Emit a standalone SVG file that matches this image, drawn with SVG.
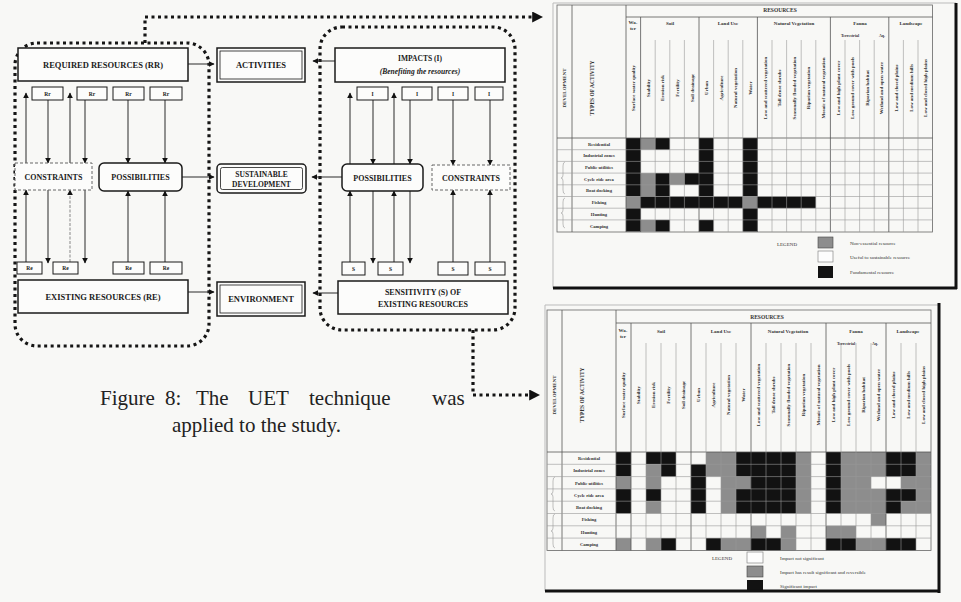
<svg xmlns="http://www.w3.org/2000/svg" width="961" height="602" viewBox="0 0 961 602">
<defs>
<style>
.box{fill:#fcfcfb;stroke:#1a1a1a;stroke-width:1.5}
.in{fill:none;stroke:#1a1a1a;stroke-width:0.8}
.sm{fill:#fcfcfb;stroke:#1a1a1a;stroke-width:1}
.dsh{fill:#fcfcfb;stroke:#666;stroke-width:1;stroke-dasharray:3 2}
.t{font-family:"Liberation Serif","Times New Roman",serif;font-weight:bold;fill:#1a1a1a;text-anchor:middle;font-size:8.5px}
.ts{font-family:"Liberation Serif","Times New Roman",serif;font-weight:bold;fill:#1a1a1a;text-anchor:middle;font-size:5.5px}
.c{stroke:#2a2a2a;stroke-width:1;fill:none}
.cl{stroke:#888;stroke-width:1;fill:none;stroke-dasharray:3 1.5}
.dot{fill:none;stroke:#151515;stroke-width:3.2;stroke-dasharray:3 3.5}
.cap{font-family:"Liberation Serif","Times New Roman",serif;font-size:21px;fill:#222}
.tt{font-family:"Liberation Serif","Times New Roman",serif;font-weight:bold;fill:#333;text-anchor:middle;font-size:5px}
.tl{font-family:"Liberation Serif","Times New Roman",serif;fill:#333;font-size:5px}
.gl{stroke:#999;stroke-width:0.6;fill:none}
.gd{stroke:#555;stroke-width:0.8;fill:none}
.B{fill:#121212}
.G{fill:#8d8d8d}
</style>
<marker id="ah" viewBox="0 0 10 10" refX="9" refY="5" markerWidth="6" markerHeight="6" markerUnits="userSpaceOnUse" orient="auto">
<path d="M0,0 L10,5 L0,10 z" fill="#111" stroke="none"/>
</marker>
<marker id="ahd" viewBox="0 0 10 10" refX="8" refY="5" markerWidth="11" markerHeight="11" markerUnits="userSpaceOnUse" orient="auto">
<path d="M0,0 L10,5 L0,10 z" fill="#111" stroke="none"/>
</marker>
</defs>

<rect x="0" y="0" width="961" height="602" fill="#f8f8f6"/>

<g id="enclosures">
<rect class="dot" x="15" y="43" width="194" height="303" rx="22"/>
<rect class="dot" x="320" y="27" width="195" height="303" rx="22"/>
</g>

<g id="connectors">
<path class="dot" d="M145,43 V17 H541" marker-end="url(#ahd)"/>
<path class="dot" d="M473,330 V395 H538" marker-end="url(#ahd)"/>
<path class="c" d="M26,163 V93" marker-end="url(#ah)"/>
<path class="c" d="M70,163 V93" marker-end="url(#ah)"/>
<path class="c" d="M48,100 V163" marker-end="url(#ah)"/>
<path class="c" d="M85,100 V163" marker-end="url(#ah)"/>
<path class="c" d="M128,100 V163" marker-end="url(#ah)"/>
<path class="c" d="M165,100 V163" marker-end="url(#ah)"/>
<path class="c" d="M26,262 V190" marker-end="url(#ah)"/>
<path class="cl" d="M70,262 V190" marker-end="url(#ah)"/>
<path class="c" d="M48,190 V263" marker-end="url(#ah)"/>
<path class="c" d="M85,190 V263" marker-end="url(#ah)"/>
<path class="c" d="M128,262 V191" marker-end="url(#ah)"/>
<path class="c" d="M165,262 V191" marker-end="url(#ah)"/>
<path class="c" d="M350,164 V93" marker-end="url(#ah)"/>
<path class="c" d="M394,164 V93" marker-end="url(#ah)"/>
<path class="c" d="M373,100 V164" marker-end="url(#ah)"/>
<path class="c" d="M410,100 V164" marker-end="url(#ah)"/>
<path class="c" d="M453,100 V165" marker-end="url(#ah)"/>
<path class="c" d="M490,100 V165" marker-end="url(#ah)"/>
<path class="c" d="M350,262 V191" marker-end="url(#ah)"/>
<path class="c" d="M394,262 V191" marker-end="url(#ah)"/>
<path class="c" d="M373,191 V263" marker-end="url(#ah)"/>
<path class="c" d="M410,191 V263" marker-end="url(#ah)"/>
<path class="c" d="M453,262 V190" marker-end="url(#ah)"/>
<path class="c" d="M490,262 V190" marker-end="url(#ah)"/>
<path class="c" d="M188,64 H214" marker-end="url(#ah)"/>
<path class="c" d="M335,61 H313" marker-end="url(#ah)"/>
<path class="c" d="M182,177 H214" stroke-width="1.6" marker-end="url(#ah)"/>
<path class="c" d="M342,177 H312" stroke-width="1.6" marker-end="url(#ah)"/>
<path class="c" d="M188,292 H214" marker-end="url(#ah)"/>
<path class="c" d="M338,293 H313" marker-end="url(#ah)"/>
</g>

<g id="n-required">
<rect class="box" x="18" y="48" width="170" height="33"/>
<text class="t" x="103" y="67.5">REQUIRED RESOURCES (RR)</text>
</g>
<g id="n-rr-boxes">
<rect class="sm" x="32" y="87" width="31" height="13"/><text class="ts" x="47.5" y="95.5">Rr</text>
<rect class="sm" x="77" y="87" width="30" height="13"/><text class="ts" x="92" y="95.5">Rr</text>
<rect class="sm" x="113" y="87" width="31" height="13"/><text class="ts" x="128.5" y="95.5">Rr</text>
<rect class="sm" x="150" y="87" width="32" height="13"/><text class="ts" x="166" y="95.5">Rr</text>
</g>
<g id="n-activities">
<rect class="box" x="217" y="48" width="88" height="34" stroke-width="1.2"/>
<rect class="in" x="220" y="51" width="82" height="28"/>
<text class="t" x="261" y="68">ACTIVITIES</text>
</g>
<g id="n-impacts">
<rect class="box" x="335" y="48" width="170" height="34"/>
<text class="t" x="420" y="61" style="font-size:7.5px">IMPACTS (I)</text>
<text class="t" x="420" y="74" style="font-size:7.5px;font-style:italic">(Benefiting the resources)</text>
</g>
<g id="n-i-boxes">
<rect class="sm" x="357" y="87" width="31" height="13"/><text class="ts" x="372.5" y="95.5">I</text>
<rect class="sm" x="402" y="87" width="30" height="13"/><text class="ts" x="417" y="95.5">I</text>
<rect class="sm" x="438" y="87" width="30" height="13"/><text class="ts" x="453" y="95.5">I</text>
<rect class="sm" x="475" y="87" width="28" height="13"/><text class="ts" x="489" y="95.5">I</text>
</g>
<g id="n-constraints-left">
<rect class="dsh" x="15" y="163" width="77" height="27"/>
<text class="t" x="53.5" y="179.5" style="font-size:8px">CONSTRAINTS</text>
</g>
<g id="n-possibilities-left">
<rect class="box" x="99" y="163" width="83" height="28" rx="5" stroke-width="2"/>
<text class="t" x="140.5" y="180" style="font-size:8px">POSSIBILITIES</text>
</g>
<g id="n-sustainable">
<rect class="box" x="217" y="164" width="89" height="29" rx="4" stroke-width="3"/>
<rect class="in" x="220.5" y="167.5" width="82" height="22" rx="2"/>
<text class="t" x="261.5" y="176.5" style="font-size:7.5px">SUSTAINABLE</text>
<text class="t" x="261.5" y="186.5" style="font-size:7.5px">DEVELOPMENT</text>
</g>
<g id="n-possibilities-right">
<rect class="box" x="342" y="164" width="81" height="27" rx="5" stroke-width="2"/>
<text class="t" x="382.5" y="180.5" style="font-size:8px">POSSIBILITIES</text>
</g>
<g id="n-constraints-right">
<rect class="dsh" x="432" y="165" width="78" height="25"/>
<text class="t" x="471" y="180.5" style="font-size:8px">CONSTRAINTS</text>
</g>
<g id="n-re-boxes">
<rect class="sm" x="17" y="262" width="25" height="12"/><text class="ts" x="29.5" y="270">Re</text>
<rect class="sm" x="53" y="262" width="25" height="12"/><text class="ts" x="65.5" y="270">Re</text>
<rect class="sm" x="113" y="262" width="31" height="12"/><text class="ts" x="128.5" y="270">Re</text>
<rect class="sm" x="150" y="262" width="32" height="12"/><text class="ts" x="166" y="270">Re</text>
</g>
<g id="n-s-boxes">
<rect class="sm" x="342" y="262" width="23" height="13"/><text class="ts" x="353.5" y="270.5">S</text>
<rect class="sm" x="378" y="262" width="25" height="13"/><text class="ts" x="390.5" y="270.5">S</text>
<rect class="sm" x="438" y="262" width="30" height="13"/><text class="ts" x="453" y="270.5">S</text>
<rect class="sm" x="475" y="262" width="30" height="13"/><text class="ts" x="490" y="270.5">S</text>
</g>
<g id="n-existing">
<rect class="box" x="18" y="280" width="170" height="33"/>
<text class="t" x="103" y="299.5">EXISTING RESOURCES (RE)</text>
</g>
<g id="n-environment">
<rect class="box" x="217" y="282" width="88" height="34" stroke-width="1.2"/>
<rect class="in" x="220" y="285" width="82" height="28"/>
<text class="t" x="261" y="302">ENVIRONMENT</text>
</g>
<g id="n-sensitivity">
<rect class="box" x="338" y="281" width="170" height="33"/>
<text class="t" x="423" y="294.5" style="font-size:8px">SENSITIVITY (S) OF</text>
<text class="t" x="423" y="306.5" style="font-size:8px">EXISTING RESOURCES</text>
</g>

<g id="caption">
<text class="cap" x="100" y="405">Figure</text>
<text class="cap" x="165" y="405">8:</text>
<text class="cap" x="196" y="405">The</text>
<text class="cap" x="248" y="405">UET</text>
<text class="cap" x="309" y="405">technique</text>
<text class="cap" x="432" y="405">was</text>
<text class="cap" x="172" y="432">applied to the study.</text>
</g>

<g id="table-resources-matrix">
<path d="M553,3 H956 M553,3 V288" stroke="#bbb" stroke-width="1" fill="none"/>
<g transform="translate(626,138) scale(14.6,11.7)">
<rect class="B" x="0" y="0" width="1" height="5"/>
<rect class="G" x="0" y="5" width="1" height="1"/>
<rect class="B" x="0" y="6" width="1" height="2"/>
<rect class="G" x="1" y="0" width="1" height="1"/>
<rect class="G" x="1" y="3" width="1" height="2"/>
<rect class="G" x="1" y="7" width="1" height="1"/>
<rect class="B" x="2" y="0" width="1" height="1"/>
<rect class="B" x="2" y="3" width="1" height="2"/>
<rect class="B" x="2" y="7" width="1" height="1"/>
<rect class="G" x="3" y="3" width="1" height="1"/>
<rect class="B" x="4" y="3" width="1" height="1"/>
<rect class="B" x="5" y="0" width="1" height="5"/>
<rect class="B" x="5" y="7" width="1" height="1"/>
<rect class="B" x="1" y="5" width="7" height="1"/>
<rect class="B" x="8" y="0" width="1" height="5"/>
<rect class="G" x="8" y="5" width="1" height="1"/>
<rect class="B" x="8" y="6" width="1" height="2"/>
<rect class="B" x="9" y="5" width="4" height="1"/>
</g>
<rect x="557" y="5" width="375.6" height="227" fill="none" stroke="#666" stroke-width="0.8"/>
<path class="gd" d="M572,5 V232 M626,5 V232 M626,17 H932.6 M557,138 H932.6 M640.6,17 V232 M699,17 V232 M757.4,17 V232 M830.4,17 V232 M888.8,17 V232"/>
<path class="gl" d="M655.2,40 V232 M669.8,40 V232 M684.4,40 V232 M713.6,40 V232 M728.2,40 V232 M742.8,40 V232 M772,40 V232 M786.6,40 V232 M801.2,40 V232 M815.8,40 V232 M845,40 V232 M859.6,40 V232 M874.2,40 V232 M903.4,40 V232 M918,40 V232 M557,149.7 H932.6 M557,161.4 H932.6 M557,173.1 H932.6 M557,184.8 H932.6 M557,196.5 H932.6 M557,208.2 H932.6 M557,219.9 H932.6"/>
<path class="gl" d="M565,162 q-2,0 -2,4 v9 q0,3 -2,3 q2,0 2,3 v9 q0,4 2,4 M565,198 q-2,0 -2,4 v8 q0,3 -2,3 q2,0 2,3 v8 q0,4 2,4" stroke="#444"/>
<text class="tt" x="780" y="12" style="font-size:5.5px">RESOURCES</text>
<text class="tt" x="633" y="24">Wa-</text><text class="tt" x="633" y="30">ter</text>
<text class="tt" x="670" y="25">Soil</text>
<text class="tt" x="728" y="25">Land Use</text>
<text class="tt" x="794" y="25">Natural Vegetation</text>
<text class="tt" x="860" y="25">Fauna</text>
<text class="tt" x="911" y="25">Landscape</text>
<text class="tt" x="850" y="37" style="font-size:4px">Terrestrial</text>
<text class="tt" x="882" y="37" style="font-size:4px">Aq.</text>
<text class="tt" transform="translate(566,88) rotate(-90)">DEVELOPMENT</text>
<text class="tt" transform="translate(594,88) rotate(-90)" style="font-size:5.5px">TYPES OF ACTIVITY</text>
<g class="tt">
<text transform="translate(635.1,88) rotate(-90)">Surface water quality</text>
<text transform="translate(649.7,88) rotate(-90)">Stability</text>
<text transform="translate(664.3,88) rotate(-90)">Erosion risk</text>
<text transform="translate(678.9,88) rotate(-90)">Fertility</text>
<text transform="translate(693.5,88) rotate(-90)">Soil drainage</text>
<text transform="translate(708.1,88) rotate(-90)">Urban</text>
<text transform="translate(722.7,88) rotate(-90)">Agriculture</text>
<text transform="translate(737.3,88) rotate(-90)">Natural vegetation</text>
<text transform="translate(751.9,88) rotate(-90)">Water</text>
<text transform="translate(766.5,88) rotate(-90)">Low and scattered vegetation</text>
<text transform="translate(781.1,88) rotate(-90)">Tall dense shrubs</text>
<text transform="translate(795.7,88) rotate(-90)">Seasonally flooded vegetation</text>
<text transform="translate(810.3,88) rotate(-90)">Riparian vegetation</text>
<text transform="translate(824.9,88) rotate(-90)">Mosaic of natural vegetation</text>
<text transform="translate(839.5,88) rotate(-90)">Low and high plant cover</text>
<text transform="translate(854.1,88) rotate(-90)">Low ground cover with pools</text>
<text transform="translate(868.7,88) rotate(-90)">Riparian habitat</text>
<text transform="translate(883.3,88) rotate(-90)">Wetland and open water</text>
<text transform="translate(897.9,88) rotate(-90)">Low and closed plains</text>
<text transform="translate(912.5,88) rotate(-90)">Low and medium hills</text>
<text transform="translate(927.1,88) rotate(-90)">Low and closed high plains</text>
</g>
<g class="tt" style="font-size:4.6px">
<text x="599" y="145.6">Residential</text>
<text x="599" y="157.3">Industrial zones</text>
<text x="599" y="169">Public utilities</text>
<text x="599" y="180.7">Cycle ride area</text>
<text x="599" y="192.4">Boat docking</text>
<text x="599" y="204.1">Fishing</text>
<text x="599" y="215.8">Hunting</text>
<text x="599" y="227.5">Camping</text>
</g>
<text class="tl" x="777" y="246">LEGEND</text>
<rect class="G" x="818" y="237" width="15" height="11" stroke="#444" stroke-width="0.6"/>
<rect x="818" y="251" width="15" height="11" fill="#fdfdfd" stroke="#777" stroke-width="0.6"/>
<rect class="B" x="818" y="266" width="15" height="12"/>
<text class="tl" x="850" y="245">Non-essential resource</text>
<text class="tl" x="850" y="259">Useful to sustainable resource</text>
<text class="tl" x="850" y="274">Fundamental resource</text>
<path d="M956,3 V289 M553,288 H957" stroke="#111" stroke-width="3" fill="none"/>
</g>

<g id="table-impacts-matrix">
<path d="M545,305 H939 M545,305 V591" stroke="#bbb" stroke-width="1" fill="none"/>
<g transform="translate(616,452) scale(15,12.3)">
<rect class="B" x="0" y="0" width="1" height="2"/>
<rect class="G" x="0" y="2" width="1" height="1"/>
<rect class="B" x="0" y="3" width="1" height="2"/>
<rect class="G" x="0" y="7" width="1" height="1"/>
<rect class="B" x="2" y="0" width="1" height="1"/>
<rect class="G" x="2" y="1" width="1" height="2"/>
<rect class="B" x="2" y="3" width="1" height="1"/>
<rect class="G" x="2" y="4" width="1" height="1"/>
<rect class="G" x="2" y="7" width="1" height="1"/>
<rect class="B" x="3" y="0" width="1" height="2"/>
<rect class="B" x="3" y="7" width="1" height="1"/>
<rect class="B" x="5" y="1" width="1" height="4"/>
<rect class="G" x="6" y="0" width="1" height="2"/>
<rect class="B" x="6" y="7" width="1" height="1"/>
<rect class="G" x="7" y="0" width="1" height="5"/>
<rect class="G" x="7" y="7" width="2" height="1"/>
<rect class="B" x="8" y="0" width="1" height="2"/>
<rect class="G" x="8" y="2" width="1" height="1"/>
<rect class="B" x="8" y="3" width="1" height="2"/>
<rect class="B" x="9" y="0" width="3" height="5"/>
<rect class="G" x="12" y="0" width="1" height="5"/>
<rect class="B" x="14" y="0" width="1" height="5"/>
<rect class="G" x="15" y="0" width="2" height="5"/>
<rect class="G" x="17" y="0" width="1" height="2"/>
<rect class="G" x="17" y="3" width="1" height="3"/>
<rect class="B" x="18" y="0" width="2" height="2"/>
<rect class="B" x="18" y="3" width="2" height="1"/>
<rect class="B" x="18" y="4" width="1" height="1"/>
<rect class="G" x="19" y="2" width="1" height="1"/>
<rect class="G" x="19" y="4" width="1" height="1"/>
<rect class="G" x="20" y="0" width="1" height="5"/>
<rect class="G" x="9" y="6" width="1" height="1"/>
<rect class="G" x="11" y="6" width="1" height="1"/>
<rect class="G" x="14" y="6" width="2" height="1"/>
<rect class="B" x="9" y="7" width="2" height="1"/>
<rect class="G" x="11" y="7" width="1" height="1"/>
<rect class="B" x="14" y="7" width="2" height="1"/>
<rect class="G" x="16" y="7" width="2" height="1"/>
<rect class="B" x="18" y="7" width="2" height="1"/>
</g>
<rect x="547" y="310" width="384" height="240.4" fill="none" stroke="#666" stroke-width="0.8"/>
<path class="gd" d="M562,310 V550.4 M616,310 V550.4 M616,323 H931 M547,452 H931 M631,323 V550.4 M691,323 V550.4 M751,323 V550.4 M826,323 V550.4 M886,323 V550.4"/>
<path class="gl" d="M646,343 V550.4 M661,343 V550.4 M676,343 V550.4 M706,343 V550.4 M721,343 V550.4 M736,343 V550.4 M766,343 V550.4 M781,343 V550.4 M796,343 V550.4 M811,343 V550.4 M841,343 V550.4 M856,343 V550.4 M871,343 V550.4 M901,343 V550.4 M916,343 V550.4 M547,464.3 H931 M547,476.6 H931 M547,488.9 H931 M547,501.2 H931 M547,513.5 H931 M547,525.8 H931 M547,538.1 H931"/>
<path class="gl" d="M555,477 q-2,0 -2,4 v10 q0,3 -2,3 q2,0 2,3 v10 q0,4 2,4 M555,514 q-2,0 -2,4 v10 q0,3 -2,3 q2,0 2,3 v10 q0,4 2,4" stroke="#444"/>
<text class="tt" x="767" y="319" style="font-size:5.5px">RESOURCES</text>
<text class="tt" x="623" y="332">Wa-</text><text class="tt" x="623" y="338">ter</text>
<text class="tt" x="661" y="333">Soil</text>
<text class="tt" x="721" y="333">Land Use</text>
<text class="tt" x="788" y="333">Natural Vegetation</text>
<text class="tt" x="856" y="333">Fauna</text>
<text class="tt" x="908" y="333">Landscape</text>
<text class="tt" x="846" y="345" style="font-size:4px">Terrestrial</text>
<text class="tt" x="875" y="345" style="font-size:4px">Aq.</text>
<text class="tt" transform="translate(556,395) rotate(-90)">DEVELOPMENT</text>
<text class="tt" transform="translate(584,395) rotate(-90)" style="font-size:5.5px">TYPES OF ACTIVITY</text>
<g class="tt">
<text transform="translate(625.3,395) rotate(-90)">Surface water quality</text>
<text transform="translate(640.3,395) rotate(-90)">Stability</text>
<text transform="translate(655.3,395) rotate(-90)">Erosion risk</text>
<text transform="translate(670.3,395) rotate(-90)">Fertility</text>
<text transform="translate(685.3,395) rotate(-90)">Soil drainage</text>
<text transform="translate(700.3,395) rotate(-90)">Urban</text>
<text transform="translate(715.3,395) rotate(-90)">Agriculture</text>
<text transform="translate(730.3,395) rotate(-90)">Natural vegetation</text>
<text transform="translate(745.3,395) rotate(-90)">Water</text>
<text transform="translate(760.3,395) rotate(-90)">Low and scattered vegetation</text>
<text transform="translate(775.3,395) rotate(-90)">Tall dense shrubs</text>
<text transform="translate(790.3,395) rotate(-90)">Seasonally flooded vegetation</text>
<text transform="translate(805.3,395) rotate(-90)">Riparian vegetation</text>
<text transform="translate(820.3,395) rotate(-90)">Mosaic of natural vegetation</text>
<text transform="translate(835.3,395) rotate(-90)">Low and high plant cover</text>
<text transform="translate(850.3,395) rotate(-90)">Low ground cover with pools</text>
<text transform="translate(865.3,395) rotate(-90)">Riparian habitat</text>
<text transform="translate(880.3,395) rotate(-90)">Wetland and open water</text>
<text transform="translate(895.3,395) rotate(-90)">Low and closed plains</text>
<text transform="translate(910.3,395) rotate(-90)">Low and medium hills</text>
<text transform="translate(925.3,395) rotate(-90)">Low and closed high plains</text>
</g>
<g class="tt" style="font-size:4.6px">
<text x="589" y="459.9">Residential</text>
<text x="589" y="472.2">Industrial zones</text>
<text x="589" y="484.5">Public utilities</text>
<text x="589" y="496.8">Cycle ride area</text>
<text x="589" y="509.1">Boat docking</text>
<text x="589" y="521.4">Fishing</text>
<text x="589" y="533.7">Hunting</text>
<text x="589" y="546">Camping</text>
</g>
<text class="tl" x="712" y="560">LEGEND</text>
<rect x="747" y="552" width="16" height="11" fill="#fdfdfd" stroke="#777" stroke-width="0.6"/>
<rect class="G" x="747" y="566" width="16" height="11" stroke="#444" stroke-width="0.6"/>
<rect class="B" x="747" y="580" width="16" height="11"/>
<text class="tl" x="780" y="560">Impact not significant</text>
<text class="tl" x="780" y="574">Impact has result significant and reversible</text>
<text class="tl" x="780" y="588">Significant impact</text>
<path d="M939,303 V593 M545,591 H940" stroke="#111" stroke-width="3" fill="none"/>
</g>
</svg>
